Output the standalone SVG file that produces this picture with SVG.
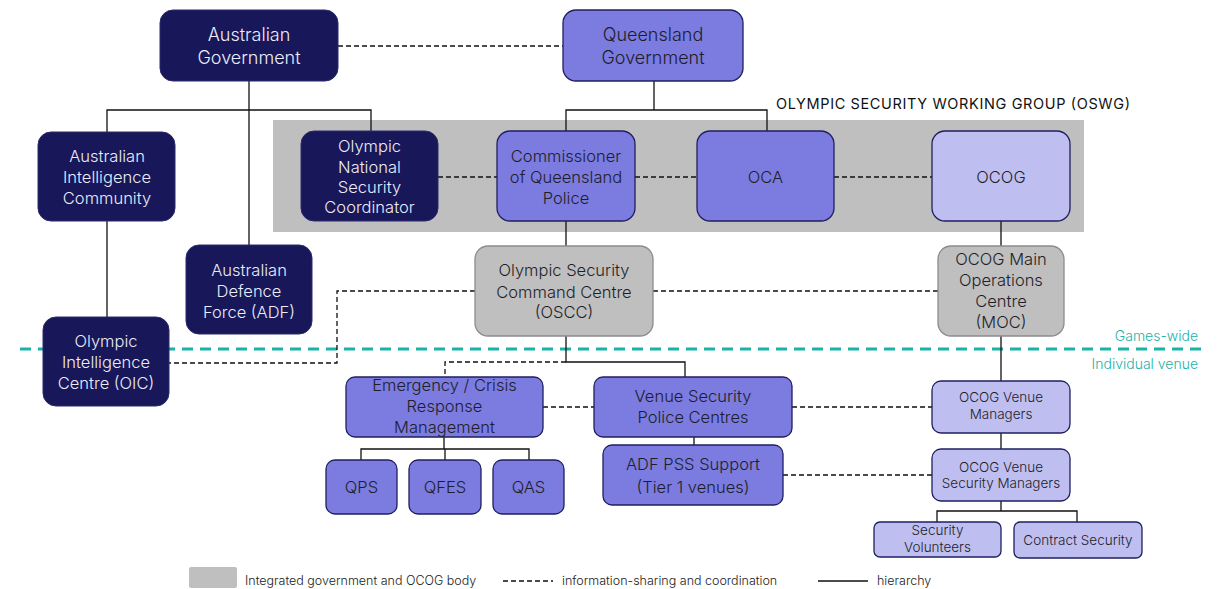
<svg xmlns="http://www.w3.org/2000/svg" width="1222" height="589" viewBox="0 0 1222 589">
<style>
.t{font-family:Inter,"Liberation Sans",Arial,sans-serif;font-weight:300;text-anchor:middle}
.w{fill:#ECECF7}
.k{fill:#1E1E2A}
.dark{fill:#17175A;stroke:#2A2A6A;stroke-width:1}
.mid{fill:#7B7BE0;stroke:#1F1F60;stroke-width:1.3}
.lite{fill:#BEBEF0;stroke:#1F1F60;stroke-width:1.3}
.grey{fill:#BFBFBF;stroke:#8C8C8C;stroke-width:1.3}
.h{fill:none;stroke:#111;stroke-width:1.3}
.d{fill:none;stroke:#111;stroke-width:1.3;stroke-dasharray:5 3}
.f18{font-size:18px}
.f17{font-size:16.5px}
.f14{font-size:13.5px}
.teal{fill:#1AB3AA;font-family:Inter,"Liberation Sans",Arial,sans-serif;font-weight:300;font-size:14px;text-anchor:end}
.leg{font-family:Inter,"Liberation Sans",Arial,sans-serif;font-weight:300;font-size:12.5px;fill:#222}
</style>
<rect x="0" y="0" width="1222" height="589" fill="#fff"/>
<g id="oswg">
<rect x="273" y="120" width="811" height="112" fill="#BFBFBF"/>
<text x="776" y="109" font-family="Inter,'Liberation Sans',Arial,sans-serif" font-size="14.5" fill="#111" textLength="354" lengthAdjust="spacing">OLYMPIC  SECURITY  WORKING  GROUP  (OSWG)</text>
</g>
<g id="scope">
<line x1="20" y1="349" x2="1208" y2="349" stroke="#1AB3AA" stroke-width="3" stroke-dasharray="11 7"/>
<text class="teal" x="1198" y="341">Games-wide</text>
<text class="teal" x="1198" y="369">Individual venue</text>
</g>
<g id="connectors">
<path class="d" d="M338 46H563"/>
<path class="h" d="M249 81V245M107 132V110H371V131M107 221V317"/>
<path class="h" d="M654 81V110M566 131V110H767V131"/>
<path class="d" d="M438 177H497M635 177H697M834 177H932"/>
<path class="h" d="M566 221V246M1001 221V246"/>
<path class="d" d="M653 291H938M475 291H337V363H169"/>
<path class="h" d="M566 336V362H685V377M1001 336V381M1001 433V449"/>
<path class="d" d="M566 362H445V377"/>
<path class="d" d="M543 407H594M792 407H932M783 475H932"/>
<path class="h" d="M694 437V445M444 437V449M361 460V449H529V460M445 449V460"/>
<path class="h" d="M1001 501V511M937 522V511H1077V522"/>
</g>
<g id="australian-government"><rect class="dark" x="160" y="10" width="178" height="71" rx="13"/><text class="t w f18" x="249" y="41">Australian</text><text class="t w f18" x="249" y="64">Government</text></g>
<g id="queensland-government"><rect class="mid" x="563" y="10" width="180" height="71" rx="13"/><text class="t k f18" x="653" y="41">Queensland</text><text class="t k f18" x="653" y="64">Government</text></g>
<g id="aic"><rect class="dark" x="38" y="132" width="137" height="89" rx="13"/><text class="t w f17" x="107" y="162">Australian</text><text class="t w f17" x="107" y="183">Intelligence</text><text class="t w f17" x="107" y="204">Community</text></g>
<g id="onsc"><rect class="dark" x="301" y="131" width="137" height="90" rx="13"/><text class="t w f17" x="369.5" y="152">Olympic</text><text class="t w f17" x="369.5" y="173">National</text><text class="t w f17" x="369.5" y="193">Security</text><text class="t w f17" x="369.5" y="213">Coordinator</text></g>
<g id="commissioner"><rect class="mid" x="497" y="131" width="138" height="90" rx="13"/><text class="t k f17" x="566" y="162">Commissioner</text><text class="t k f17" x="566" y="183">of Queensland</text><text class="t k f17" x="566" y="204">Police</text></g>
<g id="oca"><rect class="mid" x="697" y="131" width="137" height="90" rx="13"/><text class="t k f17" x="765.5" y="183">OCA</text></g>
<g id="ocog"><rect class="lite" x="932" y="131" width="138" height="90" rx="13"/><text class="t k f17" x="1001" y="183">OCOG</text></g>
<g id="adf"><rect class="dark" x="186" y="245" width="126" height="89" rx="13"/><text class="t w f17" x="249" y="276">Australian</text><text class="t w f17" x="249" y="297">Defence</text><text class="t w f17" x="249" y="318">Force (ADF)</text></g>
<g id="oic"><rect class="dark" x="43" y="317" width="126" height="89" rx="13"/><text class="t w f17" x="106" y="347">Olympic</text><text class="t w f17" x="106" y="368">Intelligence</text><text class="t w f17" x="106" y="389">Centre (OIC)</text></g>
<g id="oscc"><rect class="grey" x="475" y="246" width="178" height="90" rx="13"/><text class="t k f17" x="564" y="276">Olympic Security</text><text class="t k f17" x="564" y="298">Command Centre</text><text class="t k f17" x="564" y="318">(OSCC)</text></g>
<g id="moc"><rect class="grey" x="938" y="246" width="126" height="90" rx="13"/><text class="t k f17" x="1001" y="265">OCOG Main</text><text class="t k f17" x="1001" y="286">Operations</text><text class="t k f17" x="1001" y="307">Centre</text><text class="t k f17" x="1001" y="328">(MOC)</text></g>
<g id="erm"><rect class="mid" x="346" y="377" width="197" height="60" rx="9"/><text class="t k f17" x="444.5" y="391">Emergency / Crisis</text><text class="t k f17" x="444.5" y="412">Response</text><text class="t k f17" x="444.5" y="433">Management</text></g>
<g id="vspc"><rect class="mid" x="594" y="377" width="198" height="60" rx="9"/><text class="t k f17" x="693" y="402">Venue Security</text><text class="t k f17" x="693" y="423">Police Centres</text></g>
<g id="ovm"><rect class="lite" x="932" y="381" width="138" height="52" rx="9"/><text class="t k f14" x="1001" y="402">OCOG Venue</text><text class="t k f14" x="1001" y="419">Managers</text></g>
<g id="qps"><rect class="mid" x="326" y="460" width="71" height="54" rx="9"/><text class="t k f17" x="361.5" y="493">QPS</text></g>
<g id="qfes"><rect class="mid" x="409" y="460" width="72" height="54" rx="9"/><text class="t k f17" x="445" y="493">QFES</text></g>
<g id="qas"><rect class="mid" x="493" y="460" width="71" height="54" rx="9"/><text class="t k f17" x="528.5" y="493">QAS</text></g>
<g id="adf-pss"><rect class="mid" x="603" y="445" width="180" height="60" rx="9"/><text class="t k f17" x="693" y="470">ADF PSS Support</text><text class="t k f17" x="693" y="493">(Tier 1 venues)</text></g>
<g id="ovsm"><rect class="lite" x="932" y="449" width="138" height="52" rx="9"/><text class="t k f14" x="1001" y="472">OCOG Venue</text><text class="t k f14" x="1001" y="488">Security Managers</text></g>
<g id="sec-vol"><rect class="lite" x="874" y="522" width="127" height="35" rx="6"/><text class="t k f14" x="937.5" y="535">Security</text><text class="t k f14" x="937.5" y="552">Volunteers</text></g>
<g id="contract"><rect class="lite" x="1014" y="522" width="128" height="36" rx="6"/><text class="t k f14" x="1078" y="545">Contract Security</text></g>
<g id="legend">
<rect x="189" y="567" width="48" height="21" rx="2" fill="#BFBFBF"/>
<text class="leg" x="245" y="585">Integrated government and OCOG body</text>
<path class="d" d="M503 581H553"/>
<text class="leg" x="562" y="585">information-sharing and coordination</text>
<path class="h" d="M818 581H868"/>
<text class="leg" x="877" y="585">hierarchy</text>
</g>
</svg>
